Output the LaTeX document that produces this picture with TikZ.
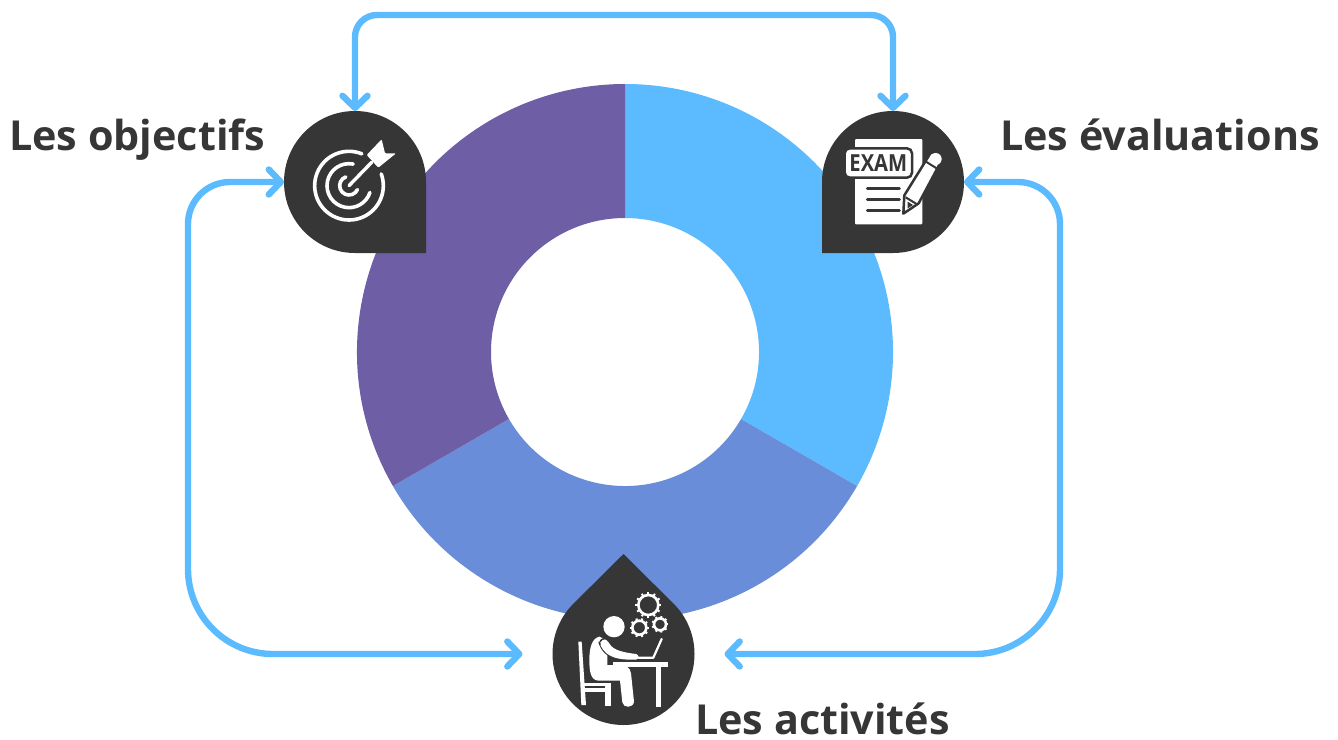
\documentclass[tikz,border=0pt]{standalone}
\usepackage{fontspec}
\setmainfont{Open Sans}
\usetikzlibrary{arrows.meta,calc}
\definecolor{skyb}{HTML}{5CBBFF}
\definecolor{midb}{HTML}{6A8DD9}
\definecolor{purp}{HTML}{6E5EA6}
\definecolor{dark}{HTML}{363636}
\newcommand{\donutseg}[3]{\fill[#1] ([shift={(#2:268)}]donut) arc[start angle=#2,end angle=#3,radius=268] -- ([shift={(#3:134)}]donut) arc[start angle=#3,end angle=#2,radius=134] -- cycle;}
\tikzset{
  anchorcirc/.style={circle,minimum size=142pt,inner sep=0pt,outer sep=0pt},
  lab/.style={anchor=base west,text=dark,font=\fontsize{41.3}{48}\selectfont\bfseries,inner sep=0pt},
  conn/.style={draw=skyb,line width=6.4pt,line join=round,{Straight Barb[length=12pt,width=25pt,round]}-{Straight Barb[length=12pt,width=25pt,round]}},
  zoomed/.style={x=0.33333pt,y=-0.33333pt},
  wline/.style={draw=white,line cap=round,line join=round}
}
\begin{document}
\begin{tikzpicture}[x=1pt,y=-1pt]
\useasboundingbox (0,0) rectangle (1338,739);
\coordinate (donut) at (625,352);
\donutseg{skyb}{-90}{30}
\donutseg{midb}{30}{150}
\donutseg{purp}{150}{270}

\node[anchorcirc] (obj) at (355,182) {};
\node[anchorcirc] (exam) at (893,182) {};
\node[anchorcirc] (act) at (623.5,654) {};

\fill[dark] (obj.east) -- (obj.east |- obj.south) -- (obj.south) arc[start angle=90,end angle=360,radius=71] -- cycle;
\fill[dark] (exam.west) -- (exam.west |- exam.south) -- (exam.south) arc[start angle=90,end angle=-180,radius=71] -- cycle;
\fill[dark] ([yshift=100pt]act.center) -- ([shift={(-45:71)}]act.center) arc[start angle=-45,end angle=225,radius=71] -- cycle;

% connectors
\draw[conn,rounded corners=22pt] (obj.north) -- (355,15) -- (893,15) -- (exam.north);
\draw[conn,shorten >=30pt] (obj.west) -- (230,182) arc[start angle=-90,end angle=-180,radius=42] -- (188,569) arc[start angle=180,end angle=90,radius=85] -- (act.west);
\draw[conn,shorten >=30pt] (exam.east) -- (1018,182) arc[start angle=-90,end angle=0,radius=42] -- (1060,569) arc[start angle=0,end angle=90,radius=85] -- (act.east);

% target icon
\begin{scope}[shift={(270,0)},zoomed]
  \draw[wline,line width=3.6pt] (237,557) ++(-68:103) arc[start angle=-68,end angle=-380,radius=103];
  \draw[wline,line width=3.6pt] (237,557) ++(-79:66) arc[start angle=-79,end angle=-342,radius=66];
  \draw[wline,line width=3.6pt] (237,557) ++(-110:28) arc[start angle=-110,end angle=-335,radius=28];
  \draw[wline,line width=3.4pt] (237,557) -- (305,487);
  \fill[white,rounded corners=1pt] (335,418) -- (345,460) -- (378,460) -- (325,503) -- (290,465) -- cycle;
\end{scope}

% exam icon
\begin{scope}[shift={(840,135)},zoomed]
  \fill[white,rounded corners=1pt] (45,12) rectangle (247,268);
  \draw[dark,line width=2.5pt,fill=white,rounded corners=5pt] (14,40) rectangle (216,128);
  \node[text=dark,font=\fontsize{23.5}{24}\selectfont\bfseries,inner sep=0pt,xscale=0.86] (examtxt) at (115,84) {EXAM};
  \foreach \yy in {160,192,225}
    \draw[dark,line width=3pt,line cap=round] (82,\yy) -- (178,\yy);
  \fill[white,draw=dark,line width=2.5pt,line join=round] (190,236) -- (193,181) -- (273,52) -- (307,72) -- (236,205) -- cycle;
  \draw[dark,line width=2pt] (197,187) -- (233,209);
  \fill[dark] (203,200) -- (203,220) -- (219,210) -- cycle;
  \draw[dark,line width=2pt] (258,80) -- (293,102);
  \fill[white] (287,72) circle[radius=18];
\end{scope}

% activity icon
\begin{scope}[shift={(570,585)},zoomed]
  \fill[white] (132,125) circle[radius=32];
  % gears
  \foreach \cx/\cy/\rr/\nn/\tl in {235/60/30/12/9,208/128/21/10/8,270/118/18/9/7}{
    \draw[white,line width=2.6pt] (\cx,\cy) circle[radius=\rr];
    \pgfmathsetmacro{\st}{360/\nn}
    \foreach \k in {1,...,\nn}
      \draw[white,line width=2pt] (\cx,\cy) ++(\k*\st:\rr) -- ++(\k*\st:\tl);
  }
  % chair
  \fill[white] (25,170) -- (35,170) -- (48,360) -- (34,360) -- cycle;
  \draw[white,line width=3.5pt] (40,298) -- (122,298);
  \draw[white,line width=3.5pt] (40,315) -- (118,315);
  \fill[white] (106,296) rectangle (122,362);
  % body
  \fill[white] (88,155) .. controls (65,160) and (58,190) .. (58,225) .. controls (58,260) and (62,285) .. (85,287) -- (150,287) -- (157,352) .. controls (160,370) and (190,370) .. (192,350) -- (183,265) .. controls (180,245) and (165,240) .. (150,240) -- (112,240) -- (112,190) -- (110,165) -- cycle;
  \draw[dark,line width=2pt,line cap=round] (88,172) .. controls (96,195) and (110,215) .. (150,222) -- (200,226);
  \fill[white] (92,168) .. controls (96,160) and (108,160) .. (114,170) .. controls (125,190) and (140,200) .. (198,207) .. controls (208,210) and (208,222) .. (198,224) .. controls (150,225) and (110,220) .. (92,182) -- cycle;
  \draw[dark,line width=1.5pt] (90,170) .. controls (96,158) and (110,158) .. (116,168);
  % desk and laptop
  \fill[white] (130,232) rectangle (295,245);
  \fill[white] (258,245) rectangle (272,365);
  \draw[white,line width=2.2pt,line cap=round,line join=round] (205,218) -- (250,218) -- (275,162);
\end{scope}

% labels
\node[lab] (lobj) at (9,150) {Les objectifs};
\node[lab] (leval) at (1000,150) {Les évaluations};
\node[lab] (lact) at (695,734.5) {Les activités};
\end{tikzpicture}
\end{document}
